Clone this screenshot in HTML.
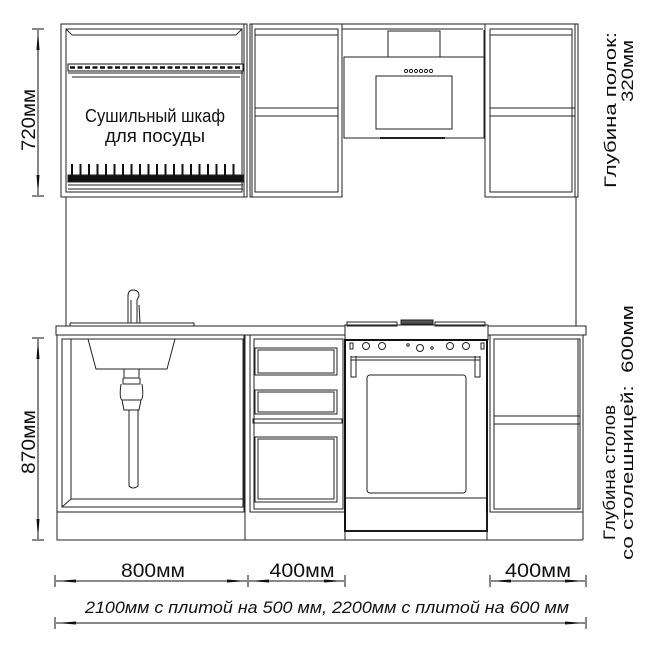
<!DOCTYPE html>
<html><head><meta charset="utf-8"><style>
html,body{margin:0;padding:0;background:#fff}
svg{display:block}
text{font-family:"Liberation Sans",sans-serif;fill:#111}
</style></head><body>
<svg width="652" height="652" viewBox="0 0 652 652" xmlns="http://www.w3.org/2000/svg">
<defs>
<marker id="a" viewBox="0 0 20 6" refX="20" refY="3" markerWidth="20" markerHeight="6" markerUnits="userSpaceOnUse" orient="auto"><path d="M0,1.5 L20,3 L0,4.5z" fill="#111"/></marker>
</defs>
<g fill="none" stroke="#222" stroke-width="1">
<rect x="61" y="24" width="186" height="173"/>
<rect x="66" y="29" width="176" height="163"/>
<line x1="66" y1="29" x2="72" y2="35"/><line x1="242" y1="29" x2="236" y2="35"/>
<line x1="72" y1="35" x2="236" y2="35"/>
<line x1="244" y1="24" x2="244" y2="197"/>
<rect x="68" y="64" width="175" height="7" fill="#fff" stroke="#111"/>
<path d="M68,73 L243,73 M72,77 L240,77" />
<g stroke="#111" stroke-width="2.5">
<line x1="70" y1="67.5" x2="242" y2="67.5" stroke-dasharray="5,2.5"/>
</g>
<rect x="68" y="175" width="175" height="7" fill="#111"/>
<g stroke="#111" stroke-width="2">
<path d="M72,164V176 M80.5,164V176 M89,164V176 M97.5,164V176 M106,164V176 M114.5,164V176 M123,164V176 M131.5,164V176 M140,164V176 M148.5,164V176 M157,164V176 M165.5,164V176 M174,164V176 M182.5,164V176 M191,164V176 M199.5,164V176 M208,164V176 M216.5,164V176 M225,164V176 M233.5,164V176"/>
</g>
<path d="M68,185 L243,185 M68,189 L243,189"/>
<rect x="250" y="24" width="92" height="173"/>
<rect x="255" y="29" width="83" height="163"/>
<line x1="255" y1="35" x2="338" y2="35"/>
<line x1="252" y1="24" x2="252" y2="197"/>
<rect x="255" y="108" width="83" height="8"/>
<path d="M342,24 L487,24 M342,29 L483,29"/>
<rect x="388" y="31" width="52" height="26"/>
<rect x="344" y="57" width="140" height="81"/>
<path d="M484,30 L484,57"/>
<rect x="376" y="76" width="76" height="53"/>
<path d="M380,138 L445,138" stroke-width="2"/>
<g fill="#fff"><circle cx="406" cy="71" r="1.6"/><circle cx="411" cy="71" r="1.6"/><circle cx="416" cy="71" r="1.6"/><circle cx="421" cy="71" r="1.6"/><circle cx="426" cy="71" r="1.6"/><circle cx="431" cy="71" r="1.6"/></g>
<rect x="485" y="24" width="93" height="173"/>
<rect x="490" y="29" width="82" height="163"/>
<line x1="575" y1="24" x2="575" y2="197"/>
<line x1="490" y1="35" x2="572" y2="35"/>
<rect x="490" y="108" width="85" height="8"/>
<line x1="66" y1="197" x2="66" y2="326"/>
<line x1="576" y1="197" x2="576" y2="326"/>
<rect x="56" y="326" width="289" height="9"/>
<rect x="488" y="326" width="98" height="9"/>
<path d="M70,323 L194,323 L194,326 M70,323 L70,326"/>
<path d="M128,323 L128,296 Q128,290 133,290 Q139,290 139,296 L137,300 L137,323 M131,300 L131,323 M139,305 L140,323"/>
<rect x="57" y="335" width="188" height="177"/>
<rect x="62" y="339" width="181" height="168"/>
<rect x="71" y="339" width="172" height="160"/>
<line x1="62" y1="507" x2="71" y2="499"/>
<line x1="244" y1="335" x2="244" y2="512"/>
<path d="M88,339 L96,369 L167,369 L175,339"/>
<path d="M124,369 L124,378 L139,378 L139,369 M123,378 L123,384 L140,384 L140,378 M121,384 Q119,398 122,400 L141,400 Q144,398 142,384 M122,400 L124,410 L139,410 L141,400 M129,410 L129,486 Q133,490 138,486 L138,410"/>
<path d="M57,512 L57,540 L583,540 M245,512 L245,540 M583,512 L583,540"/>
<rect x="250" y="335" width="95" height="177"/>
<rect x="254" y="339" width="89" height="170"/>
<rect x="255" y="348" width="82" height="27"/>
<rect x="258" y="350" width="76" height="23"/>
<rect x="255" y="390" width="82" height="24"/>
<rect x="258" y="392" width="76" height="20"/>
<rect x="253" y="419" width="89" height="4"/>
<rect x="255" y="437" width="82" height="65"/>
<rect x="258" y="439" width="76" height="60"/>
<rect x="345" y="325" width="143" height="15"/>
<rect x="347" y="322" width="50" height="4"/>
<rect x="435" y="322" width="50" height="4"/>
<rect x="401" y="320" width="32" height="4" fill="#555"/>
<rect x="345" y="340" width="142" height="191" stroke-width="2" stroke="#111"/>
<rect x="345" y="531" width="142" height="9"/>
<path d="M351,357 L480,357 M351,360 L480,360 M351,356 L351,377 L356,377 L356,356 M475,356 L475,377 L480,377 L480,356"/>
<rect x="367" y="375" width="99" height="118" rx="3"/>
<line x1="346" y1="498" x2="486" y2="498"/>
<g fill="#fff"><rect x="350" y="343" width="3" height="6"/><rect x="481" y="343" width="3" height="6"/>
<circle cx="366" cy="346" r="3.5"/><circle cx="382" cy="346" r="3.5"/><circle cx="420" cy="348" r="3.5"/><circle cx="450" cy="346" r="3.5"/><circle cx="466" cy="346" r="3.5"/><circle cx="408" cy="345" r="1.2"/><circle cx="432" cy="348" r="1.2"/></g>
<rect x="490" y="335" width="93" height="177"/>
<rect x="494" y="339" width="86" height="170"/>
<line x1="578" y1="339" x2="578" y2="509"/>
<rect x="494" y="416" width="86" height="8"/>
<line x1="487" y1="512" x2="487" y2="540"/>
</g>
<text x="155" y="122" font-size="18.5" text-anchor="middle" textLength="140" lengthAdjust="spacingAndGlyphs">Сушильный шкаф</text>
<text x="155" y="142" font-size="18.5" text-anchor="middle" textLength="100" lengthAdjust="spacingAndGlyphs">для посуды</text>
<g stroke="#111" stroke-width="1">
<line x1="32" y1="29" x2="44" y2="29"/><line x1="32" y1="196" x2="44" y2="196"/>
<line x1="38" y1="112" x2="38" y2="30" marker-end="url(#a)"/><line x1="38" y1="112" x2="38" y2="195" marker-end="url(#a)"/>
<line x1="32" y1="338" x2="44" y2="338"/><line x1="32" y1="540" x2="44" y2="540"/>
<line x1="38" y1="440" x2="38" y2="339" marker-end="url(#a)"/><line x1="38" y1="440" x2="38" y2="539" marker-end="url(#a)"/>
<line x1="55" y1="575" x2="55" y2="587"/><line x1="248" y1="575" x2="248" y2="587"/><line x1="345" y1="575" x2="345" y2="587"/>
<line x1="150" y1="581" x2="56" y2="581" marker-end="url(#a)"/><line x1="150" y1="581" x2="247" y2="581" marker-end="url(#a)"/>
<line x1="296" y1="581" x2="249" y2="581" marker-end="url(#a)"/><line x1="296" y1="581" x2="344" y2="581" marker-end="url(#a)"/>
<line x1="490" y1="575" x2="490" y2="587"/><line x1="586" y1="575" x2="586" y2="587"/>
<line x1="538" y1="581" x2="491" y2="581" marker-end="url(#a)"/><line x1="538" y1="581" x2="585" y2="581" marker-end="url(#a)"/>
<line x1="55" y1="617" x2="55" y2="629"/><line x1="586" y1="617" x2="586" y2="629"/>
<line x1="320" y1="623" x2="56" y2="623" marker-end="url(#a)"/><line x1="320" y1="623" x2="585" y2="623" marker-end="url(#a)"/>
</g>
<text x="153" y="577" font-size="19" text-anchor="middle" textLength="64" lengthAdjust="spacingAndGlyphs">800мм</text>
<text x="302" y="577" font-size="19" text-anchor="middle" textLength="65" lengthAdjust="spacingAndGlyphs">400мм</text>
<text x="538" y="577" font-size="19" text-anchor="middle" textLength="66" lengthAdjust="spacingAndGlyphs">400мм</text>
<text x="327" y="613" font-size="17" font-style="italic" text-anchor="middle" textLength="484" lengthAdjust="spacingAndGlyphs">2100мм с плитой на 500 мм, 2200мм с плитой на 600 мм</text>
<text transform="translate(35,120) rotate(-90)" font-size="19" text-anchor="middle" textLength="62" lengthAdjust="spacingAndGlyphs">720мм</text>
<text transform="translate(35,442) rotate(-90)" font-size="19" text-anchor="middle" textLength="64" lengthAdjust="spacingAndGlyphs">870мм</text>
<text transform="translate(616,188) rotate(-90)" font-size="17" textLength="156" lengthAdjust="spacingAndGlyphs">Глубина полок:</text>
<text transform="translate(633,40) rotate(-90)" font-size="17" text-anchor="end" textLength="62" lengthAdjust="spacingAndGlyphs">320мм</text>
<text transform="translate(615,540) rotate(-90)" font-size="17" textLength="135" lengthAdjust="spacingAndGlyphs">Глубина столов</text>
<text transform="translate(633,560) rotate(-90)" font-size="17" xml:space="preserve" textLength="255" lengthAdjust="spacingAndGlyphs">со столешницей:  600мм</text>
</svg>
</body></html>
